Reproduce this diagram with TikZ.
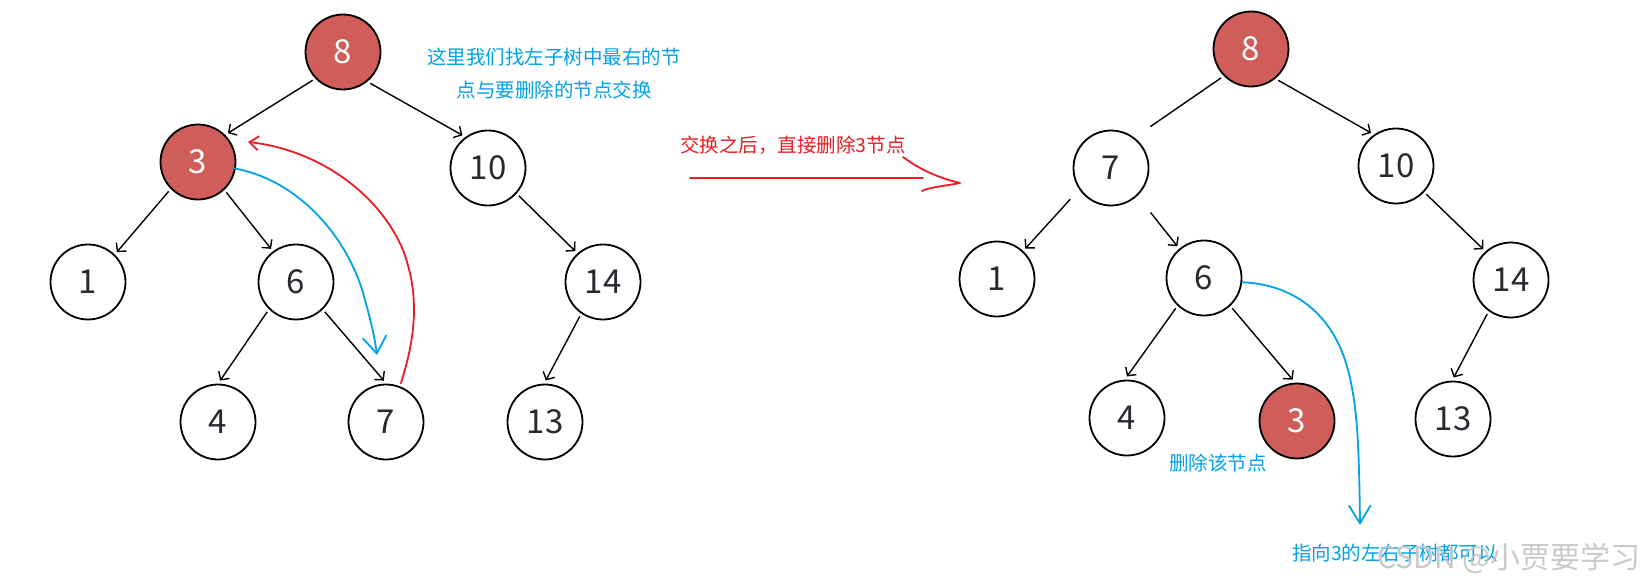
\documentclass[tikz,border=0pt]{standalone}
\usepackage{fontspec}
\newfontfamily\cjk{Noto Sans CJK SC}
\usetikzlibrary{arrows.meta}
\definecolor{nodered}{RGB}{207,94,91}
\definecolor{inkred}{RGB}{237,28,36}
\definecolor{inkblue}{RGB}{0,162,232}
\definecolor{numgray}{RGB}{40,42,50}
\definecolor{wmgray}{RGB}{196,196,196}
\begin{document}
\begin{tikzpicture}[x=1pt,y=-1pt,
  tn/.style={circle, draw=black, line width=1.8pt, minimum size=75pt, inner sep=0pt, outer sep=4pt,
    font=\cjk\fontsize{33}{33}\selectfont, text=numgray, fill=white},
  rn/.style={tn, fill=nodered, text=white},
  edge/.style={line width=1.4pt, -{Straight Barb[length=6pt,width=13pt]}},
  plainedge/.style={line width=1.4pt},
  redink/.style={draw=inkred, line width=1.8pt, line cap=round, line join=round},
  blueink/.style={draw=inkblue, line width=1.8pt, line cap=round, line join=round},
  bluetxt/.style={text=inkblue, font=\cjk\fontsize{19.5}{22}\selectfont, inner sep=0pt},
  redtxt/.style={text=inkred, font=\cjk\fontsize{19.5}{22}\selectfont, inner sep=0pt},
  wm/.style={text=wmgray, font=\cjk\fontsize{30}{32}\selectfont, inner sep=0pt, opacity=0.9}
]
\useasboundingbox[fill=white] (0,0) rectangle (1645,586);

% ---------- left tree ----------
\node[rn] (L8)  at (343,52)  {8};
\node[rn] (L3)  at (198,162) {3};
\node[tn] (L10) at (488,168) {10};
\node[tn] (L1)  at (88,282)  {1};
\node[tn] (L6)  at (296,282) {6};
\node[tn] (L14) at (603,282) {14};
\node[tn] (L4)  at (218,422) {4};
\node[tn] (L7)  at (386,422) {7};
\node[tn] (L13) at (545,422) {13};

\draw[edge] (L8.223)  -- (L3.44);
\draw[edge] (L8.311)  -- (L10.128);
\draw[edge] (L3.225)  -- (L1.46);
\draw[edge] (L3.313)  -- (L6.127);
\draw[edge] (L10.318) -- (L14.132);
\draw[edge] (L6.226)  -- (L4.87);
\draw[edge] (L6.314)  -- (L7.93);
\draw[edge] (L14.236) -- (L13.89);

% hand-drawn arrows in left tree
\coordinate (redtip) at (248,142);
\coordinate (bluetipL) at (377,355);
\draw[redink, -{Straight Barb[length=9pt,width=14pt]}] (L7.69)
  .. controls (418,330) and (418,290) .. (403,250)
  .. controls (380,195) and (320,150) .. (redtip);
\draw[blueink, shorten <=-5pt, -{Straight Barb[length=17pt,width=24pt]}] (L3.350)
  .. controls (300,180) and (350,240) .. (365,300)
  .. controls (372,325) and (375,340) .. (bluetipL);

\node[bluetxt] (t1) at (554,57) {这里我们找左子树中最右的节};
\node[bluetxt] (t2) at (554,90) {点与要删除的节点交换};

% ---------- middle ----------
\node[redtxt] (t3) at (793,145) {交换之后，直接删除3节点};
\coordinate (ra1) at (690,178);
\coordinate (ra2) at (923,178);
\coordinate (hA) at (903,157);
\coordinate (hB) at (960,183);
\coordinate (hC) at (922,191);
\draw[redink] (ra1) -- (ra2);
\draw[redink] (hA) .. controls (918,168) and (935,177) .. (hB)
  .. controls (945,186) and (930,187) .. (hC);

% ---------- right tree ----------
\node[rn] (R8)  at (1251,49)  {8};
\node[tn] (R7)  at (1111,168) {7};
\node[tn] (R10) at (1396,166) {10};
\node[tn] (R1)  at (997,279)  {1};
\node[tn] (R6)  at (1204,278) {6};
\node[tn] (R14) at (1511,280) {14};
\node[tn] (R4)  at (1127,418) {4};
\node[rn] (R3)  at (1297,421) {3};
\node[tn] (R13) at (1453,419) {13};

\draw[plainedge, shorten >=16pt] (R8.224) -- (R7.51);
\draw[edge] (R8.311) -- (R10.127);
\draw[edge, shorten <=10pt] (R7.215) -- (R1.47);
\draw[edge, shorten <=18pt] (R7.313) -- (R6.130);
\draw[edge] (R10.317) -- (R14.132);
\draw[edge] (R6.227) -- (R4.90);
\draw[edge] (R6.313) -- (R3.96);
\draw[edge] (R14.235) -- (R13.89);

\coordinate (bluetipR) at (1360,525);
\draw[blueink, shorten <=-3pt, -{Straight Barb[length=18pt,width=22pt]}] (R6.354)
  .. controls (1300,285) and (1335,320) .. (1348,370)
  .. controls (1357,405) and (1359,440) .. (bluetipR);

\node[bluetxt] (t4) at (1218,463) {删除该节点};
\node[bluetxt] (t5) at (1395,553) {指向3的左右子树都可以};
\node[wm, anchor=east] (wmk) at (1641,558) {CSDN @小贾要学习};
\end{tikzpicture}
\end{document}
